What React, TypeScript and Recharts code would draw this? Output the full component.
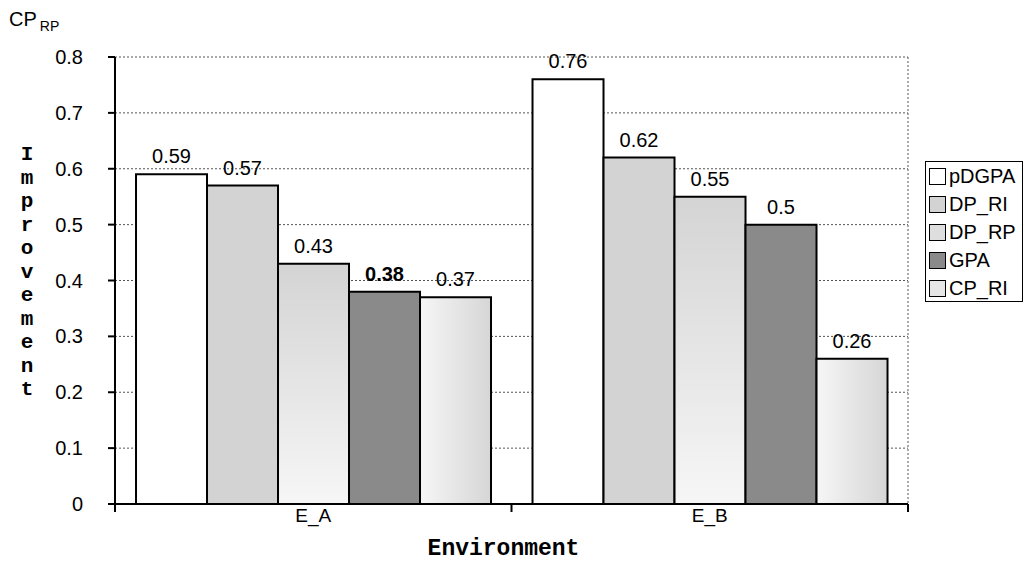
import React from "react";
import {
  Bar,
  BarChart,
  CartesianGrid,
  Label,
  LabelList,
  Legend,
  XAxis,
  YAxis,
} from "recharts";

const categories = ["E_A", "E_B"];
const pDGPA = [0.59, 0.76];
const DP_RI = [0.57, 0.62];
const DP_RP = [0.43, 0.55];
const GPA = [0.38, 0.5];
const CP_RI = [0.37, 0.26];
const yTicks = [0, 0.1, 0.2, 0.3, 0.4, 0.5, 0.6, 0.7, 0.8];

const seriesNames = ["pDGPA", "DP_RI", "DP_RP", "GPA", "CP_RI"];
const seriesValues = [pDGPA, DP_RI, DP_RP, GPA, CP_RI];

const data = categories.map((c, i) => {
  const row: Record<string, string | number> = { name: c };
  seriesNames.forEach((s, j) => {
    row[s] = seriesValues[j][i];
  });
  return row;
});

const barFill: Record<string, string> = {
  pDGPA: "#ffffff",
  DP_RI: "#d3d3d3",
  DP_RP: "url(#gradRP)",
  GPA: "#8a8a8a",
  CP_RI: "url(#gradCP)",
};

const swatchFill: Record<string, string> = {
  pDGPA: "#ffffff",
  DP_RI: "#d3d3d3",
  DP_RP: "#dedede",
  GPA: "#8a8a8a",
  CP_RI: "#e6e6e6",
};

const sans = "'Liberation Sans', Arial, sans-serif";
const mono = "'Liberation Mono', 'Courier New', monospace";

const makeLabel = (series: string) => (props: any) => {
  const { x, y, width, value, index } = props;
  const bold = series === "GPA" && index === 0;
  return (
    <text
      x={x + width / 2}
      y={y - 11}
      textAnchor="middle"
      fontFamily={sans}
      fontSize={20}
      fontWeight={bold ? "bold" : "normal"}
      fill="#000"
    >
      {String(value)}
    </text>
  );
};

const XTick = (props: any) => {
  const { x, y, payload, index, width, visibleTicksCount } = props;
  const band = width / visibleTicksCount;
  const top = y - 7;
  return (
    <g>
      <line x1={x - band / 2} x2={x - band / 2} y1={top} y2={top + 8} stroke="#000" strokeWidth={2} />
      {index === visibleTicksCount - 1 && (
        <line x1={x + band / 2} x2={x + band / 2} y1={top} y2={top + 8} stroke="#000" strokeWidth={2} />
      )}
      <text x={x} y={y + 11} textAnchor="middle" fontFamily={sans} fontSize={19} fill="#000">
        {payload.value}
      </text>
    </g>
  );
};

const YTitle = (props: any) => {
  const { viewBox } = props;
  const letters = "Improvement".split("");
  const cx = viewBox.x - 28;
  const startY = viewBox.y + viewBox.height / 2 - 5 * 23.5 - 10;
  return (
    <text fontFamily={mono} fontWeight="bold" fontSize={21} textAnchor="middle" fill="#000">
      {letters.map((l, i) => (
        <tspan key={i} x={cx} y={startY + i * 23.5 + 7}>
          {l}
        </tspan>
      ))}
    </text>
  );
};

const XTitle = (props: any) => {
  const { viewBox } = props;
  return (
    <text
      x={viewBox.x + viewBox.width / 2 - 8}
      y={viewBox.y + viewBox.height + 11}
      textAnchor="middle"
      fontFamily={mono}
      fontWeight="bold"
      fontSize={23}
      fill="#000"
    >
      Environment
    </text>
  );
};

const LegendBox = () => (
  <div style={{ fontFamily: sans, fontSize: 20, color: "#000" }}>
    {seriesNames.map((s) => (
      <div key={s} style={{ display: "flex", alignItems: "center", height: 28 }}>
        <span
          style={{
            display: "inline-block",
            width: 15,
            height: 15,
            border: "1.5px solid #000",
            background: swatchFill[s],
            marginLeft: 3,
            marginRight: 3,
          }}
        />
        <span>{s}</span>
      </div>
    ))}
  </div>
);

export default function App() {
  return (
    <div style={{ position: "absolute", left: 0, top: 0, width: 1027, height: 570, background: "#fff" }}>
      <div style={{ position: "absolute", left: 9, top: 8, fontFamily: sans, fontSize: 20, color: "#000", whiteSpace: "nowrap" }}>
        CP<sub style={{ fontSize: 14, marginLeft: 3 }}>RP</sub>
      </div>
      <BarChart
        width={1027}
        height={570}
        data={data}
        margin={{ top: 57, right: 119, bottom: 26, left: 55 }}
        barCategoryGap="5.3%"
        barGap={0}
      >
        <defs>
          <linearGradient id="gradRP" x1="0" y1="0" x2="0" y2="1">
            <stop offset="0%" stopColor="#d4d4d4" />
            <stop offset="100%" stopColor="#f6f6f6" />
          </linearGradient>
          <linearGradient id="gradCP" x1="0" y1="0" x2="1" y2="0">
            <stop offset="0%" stopColor="#f6f6f6" />
            <stop offset="100%" stopColor="#d6d6d6" />
          </linearGradient>
        </defs>
        <CartesianGrid
          stroke="#555"
          strokeDasharray="2 2"
          verticalCoordinatesGenerator={(p: any) => [p.offset.left + p.offset.width]}
        />
        <XAxis
          dataKey="name"
          height={40}
          tickSize={7}
          tickMargin={0}
          tickLine={false}
          tick={<XTick />}
          axisLine={{ stroke: "#000", strokeWidth: 2 }}
        >
          <Label content={<XTitle />} />
        </XAxis>
        <YAxis
          width={60}
          domain={[0, 0.8]}
          ticks={yTicks}
          interval={0}
          tickSize={7}
          tickMargin={25}
          tick={{ fontFamily: sans, fontSize: 20, fill: "#000" }}
          tickLine={{ stroke: "#000", strokeWidth: 2 }}
          axisLine={{ stroke: "#000", strokeWidth: 2 }}
        >
          <Label content={<YTitle />} />
        </YAxis>
        <Legend
          layout="vertical"
          align="center"
          verticalAlign="middle"
          content={<LegendBox />}
          wrapperStyle={{
            left: 925,
            top: 161,
            width: 98,
            height: 141,
            border: "1px solid #000",
            boxSizing: "border-box",
            background: "#fff",
          }}
        />
        {seriesNames.map((s) => (
          <Bar
            key={s}
            dataKey={s}
            fill={barFill[s]}
            stroke="#000"
            strokeWidth={2}
            isAnimationActive={false}
          >
            <LabelList dataKey={s} content={makeLabel(s)} />
          </Bar>
        ))}
      </BarChart>
    </div>
  );
}
